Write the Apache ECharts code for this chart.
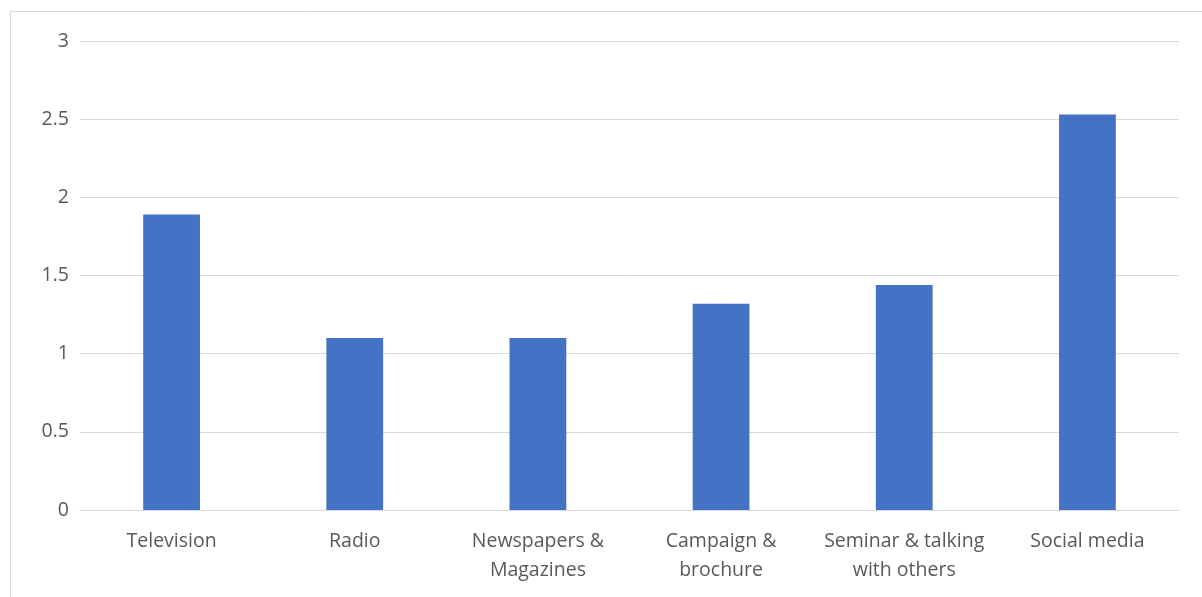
<!DOCTYPE html>
<html>
<head>
<meta charset="utf-8">
<script src="https://cdn.jsdelivr.net/npm/echarts@6/dist/echarts.min.js"></script>
<style>
  html, body { margin: 0; padding: 0; background: #fff; }
  #chart { width: 1202px; height: 597px; }
</style>
</head>
<body>
<div id="chart"></div>
<script>
// Information sources and their mean scores
const categories = ['Television', 'Radio', 'Newspapers &\nMagazines', 'Campaign &\nbrochure', 'Seminar & talking\nwith others', 'Social media'];
const scores = [1.89, 1.1, 1.1, 1.32, 1.44, 2.53];
const yTicks = { min: 0, max: 3, interval: 0.5 };

const chart = echarts.init(document.getElementById('chart'), null, { renderer: 'canvas' });
const font = "'Open Sans', 'Liberation Sans', sans-serif";

chart.setOption({
  animation: false,
  backgroundColor: '#ffffff',
  graphic: [{
    type: 'rect',
    shape: { x: 10.5, y: 11.5, width: 1210, height: 620 },
    style: { fill: 'none', stroke: '#d9d9d9', lineWidth: 1 },
    silent: true
  }],
  grid: { left: 80, right: 23, top: 41, bottom: 87 },
  xAxis: {
    type: 'category',
    data: categories,
    axisLine: { show: true, lineStyle: { color: '#d9d9d9', width: 1 } },
    axisTick: { show: false },
    axisLabel: {
      color: '#595959', fontFamily: font, fontSize: 19.5,
      lineHeight: 29, margin: 17, interval: 0
    }
  },
  yAxis: {
    type: 'value',
    min: yTicks.min, max: yTicks.max, interval: yTicks.interval,
    axisLine: { show: false },
    axisTick: { show: false },
    splitLine: { lineStyle: { color: '#d9d9d9', width: 1 } },
    axisLabel: {
      color: '#595959', fontFamily: font, fontSize: 19.5, margin: 11,
      formatter: v => String(v)
    }
  },
  series: [{
    type: 'bar',
    data: scores,
    barWidth: '31%',
    itemStyle: { color: '#4472c4' }
  }]
});
</script>
</body>
</html>
